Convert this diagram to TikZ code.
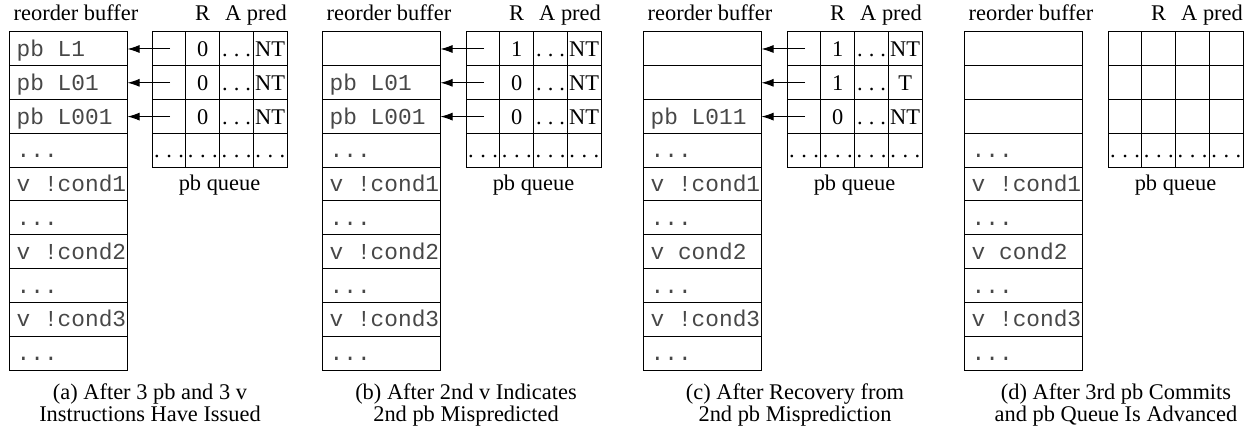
\documentclass[tikz,border=0pt]{standalone}
\usepackage{fontspec}
\setmainfont{Liberation Serif}
\newfontfamily\robmono{Liberation Mono}
\usetikzlibrary{arrows.meta}
\newcommand{\serfont}{\fontsize{22.4}{22}\selectfont}
\newcommand{\monfont}{\robmono\fontsize{22.8}{22}\selectfont}
\newcommand{\mdots}{...}
\tikzset{
  robline/.style={draw=black, line width=1pt},
  qline/.style={draw=black, line width=1pt},
  robtext/.style={anchor=base west, inner sep=0pt, font=\monfont, text=black!72},
  hdr/.style={anchor=base, inner sep=0pt, font=\serfont},
  cell/.style={anchor=base, inner sep=0pt, font=\serfont},
  qdots/.style={anchor=base west, inner sep=0pt, font=\serfont},
  ptr/.style={line width=1pt, -{Latex[length=12pt,width=8pt]}},
}
% #1 name, #2 left x of buffer, #3 entries
\newcommand{\robpanel}[3]{%
  \draw[robline] (#2,32) rectangle (#2+118,370);
  \foreach \k in {1,2,3,4,5,6,7,8,9} \draw[robline] (#2,32+\k*33.8) -- (#2+118,32+\k*33.8);
  \foreach \t [count=\r from 0] in {#3} \node[robtext] (#1-r\r) at (#2+7.5,56.5+\r*33.8) {\t};
  \node[hdr] (#1-hrob) at (#2+67,21) {reorder buffer};
}
% #1 name, #2 left x of queue
\newcommand{\pbqueue}[2]{%
  \draw[qline] (#2,32) rectangle (#2+135,167.2);
  \foreach \k in {1,2,3} {
    \draw[qline] (#2+\k*33.75,32) -- (#2+\k*33.75,167.2);
    \draw[qline] (#2,32+\k*33.8) -- (#2+135,32+\k*33.8);
  }
  \foreach \k in {0,1,2,3} \node[qdots] (#1-qd\k) at (#2+\k*33.75+2,158) {.\kern6.5pt.\kern6.5pt.};
  \node[hdr] (#1-hR) at (#2+50.6,21) {R};
  \node[hdr, anchor=base east] (#1-hA) at (#2+135,21) {A pred};
  \node[hdr] (#1-hq) at (#2+67.5,191) {pb queue};
}
% #1 name, #2 queue left x, #3 row index (0..2), #4 R value, #5 pred
\newcommand{\qrow}[5]{%
  \node[cell] (#1-R#3) at (#2+50.6,56.5+#3*33.8) {#4};
  \node[qdots] (#1-D#3) at (#2+67.5+2.5,56.5+#3*33.8) {.\kern6pt.\kern6pt.};
  \node[cell] (#1-P#3) at (#2+118.1,56.5+#3*33.8) {#5};
}
% #1 name, #2 queue left x, #3 buffer left x, #4 row index
\newcommand{\qptr}[4]{%
  \coordinate (#1-qs#4) at (#2+18,49+#4*33.8);
  \coordinate (#1-be#4) at (#3+118.5,49+#4*33.8);
  \draw[ptr] (#1-qs#4) -- (#1-be#4);
}
\begin{document}
\begin{tikzpicture}[x=1pt,y=-1pt]
\fill[white] (0,0) rectangle (1258,430);
\useasboundingbox (0,0) rectangle (1258,430);

% (a)
\robpanel{a}{9}{pb L1,pb L01,pb L001,\mdots,v !cond1,\mdots,v !cond2,\mdots,v !cond3,\mdots}
\pbqueue{a}{152}
\qrow{a}{152}{0}{0}{NT}
\qrow{a}{152}{1}{0}{NT}
\qrow{a}{152}{2}{0}{NT}
\foreach \i in {0,1,2} {\qptr{a}{152}{9}{\i}}
\node[hdr] (a-c1) at (150,399) {(a) After 3 pb and 3 v};
\node[hdr] (a-c2) at (150,421) {Instructions Have Issued};

% (b)
\robpanel{b}{322}{,pb L01,pb L001,\mdots,v !cond1,\mdots,v !cond2,\mdots,v !cond3,\mdots}
\pbqueue{b}{466}
\qrow{b}{466}{0}{1}{NT}
\qrow{b}{466}{1}{0}{NT}
\qrow{b}{466}{2}{0}{NT}
\foreach \i in {0,1,2} {\qptr{b}{466}{322}{\i}}
\node[hdr] (b-c1) at (466,399) {(b) After 2nd v Indicates};
\node[hdr] (b-c2) at (466,421) {2nd pb Mispredicted};

% (c)
\robpanel{c}{643}{,,pb L011,\mdots,v !cond1,\mdots,v cond2,\mdots,v !cond3,\mdots}
\pbqueue{c}{787}
\qrow{c}{787}{0}{1}{NT}
\qrow{c}{787}{1}{1}{T}
\qrow{c}{787}{2}{0}{NT}
\foreach \i in {0,1,2} {\qptr{c}{787}{643}{\i}}
\node[hdr] (c-c1) at (795,399) {(c) After Recovery from};
\node[hdr] (c-c2) at (795,421) {2nd pb Misprediction};

% (d)
\robpanel{d}{964}{,,,\mdots,v !cond1,\mdots,v cond2,\mdots,v !cond3,\mdots}
\pbqueue{d}{1108}
\node[hdr] (d-c1) at (1116,399) {(d) After 3rd pb Commits};
\node[hdr] (d-c2) at (1116,421) {and pb Queue Is Advanced};
\end{tikzpicture}
\end{document}
